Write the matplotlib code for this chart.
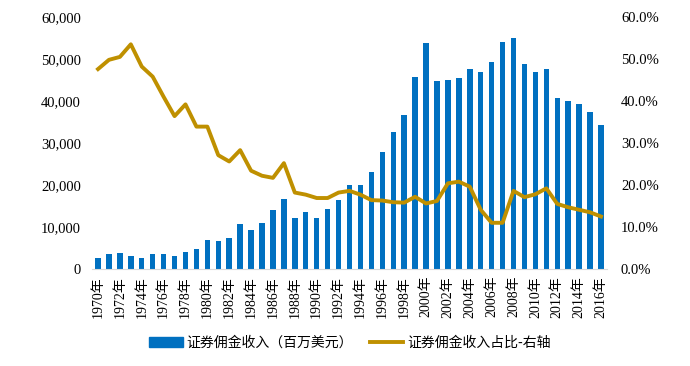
import matplotlib
matplotlib.use("Agg")
import matplotlib.pyplot as plt
import numpy as np
from matplotlib.lines import Line2D
from matplotlib.patches import Patch
from matplotlib.ticker import FuncFormatter

years = list(range(1970, 2017))
# 证券佣金收入（百万美元）
commission = [
    2600, 3500, 3700, 3100, 2700, 3500, 3600, 3000, 4000, 4800,
    6900, 6700, 7500, 10600, 9400, 11000, 14000, 16700, 12100, 13500,
    12100, 14300, 16400, 20000, 19900, 23100, 27900, 32600, 36700, 45700,
    53900, 44700, 44900, 45400, 47600, 46800, 49400, 54000, 55000, 48900,
    47000, 47600, 40600, 40000, 39400, 37300, 34200,
]
# 证券佣金收入占比（%）
share = [
    47.6, 49.8, 50.5, 53.5, 48.2, 45.8, 41.0, 36.4, 39.2, 33.9,
    33.9, 27.1, 25.6, 28.3, 23.4, 22.2, 21.7, 25.2, 18.2, 17.7,
    16.9, 16.9, 18.2, 18.6, 17.7, 16.4, 16.3, 15.9, 15.8, 17.2,
    15.6, 16.2, 20.4, 20.8, 19.6, 14.1, 11.0, 11.0, 18.6, 17.1,
    17.8, 19.2, 15.5, 14.7, 14.1, 13.5, 12.5,
]
left_ticks = [0, 10000, 20000, 30000, 40000, 50000, 60000]
right_ticks = [0, 10, 20, 30, 40, 50, 60]

bar_color = "#0070C0"
line_color = "#BF9000"
num_font = ["Liberation Serif", "Noto Sans CJK SC"]
cjk_font = ["Noto Sans CJK SC", "DejaVu Sans"]

fig = plt.figure(figsize=(6.9, 3.66), dpi=100)
ax = fig.add_axes([92 / 690, 1 - 269 / 366, (607 - 92) / 690, (269 - 17) / 366])
ax2 = ax.twinx()

x = np.arange(len(years))
ax.bar(x, commission, width=0.5, color=bar_color, zorder=2)
ax2.plot(x, share, color=line_color, linewidth=2.8, zorder=3)

ax.set_xlim(-0.55, len(years) - 0.45)
ax.set_ylim(0, 60000)
ax2.set_ylim(0, 60)
ax.set_yticks(left_ticks)
ax2.set_yticks(right_ticks)
ax.yaxis.set_major_formatter(FuncFormatter(lambda v, p: f"{v:,.0f}"))
ax2.yaxis.set_major_formatter(FuncFormatter(lambda v, p: f"{v:.1f}%"))

ax.set_xticks(x[::2])
ax.set_xticklabels([f"{y}年" for y in years[::2]], rotation=90,
                   family=num_font, fontsize=10)

for a in (ax, ax2):
    for s in a.spines.values():
        s.set_visible(False)
    a.tick_params(length=0)
ax.spines["bottom"].set_visible(True)
ax.spines["bottom"].set_color("#D9D9D9")
ax.tick_params(axis="x", pad=5)
ax.tick_params(axis="y", pad=8)
ax2.tick_params(axis="y", pad=10)
for lab in ax.get_yticklabels() + ax2.get_yticklabels():
    lab.set_family(num_font)
    lab.set_fontsize(10.5)

handles = [
    Patch(facecolor=bar_color, edgecolor=bar_color),
    Line2D([0], [0], color=line_color, linewidth=2.8),
]
labels = ["证券佣金收入（百万美元）", "证券佣金收入占比-右轴"]
fig.legend(handles, labels, loc="center", bbox_to_anchor=(350 / 690, 1 - 343 / 366),
           ncol=2, frameon=False, prop={"family": cjk_font, "size": 10},
           handlelength=2.4, handletextpad=0.3, columnspacing=1.2)

fig.savefig("out.png", dpi=100)
